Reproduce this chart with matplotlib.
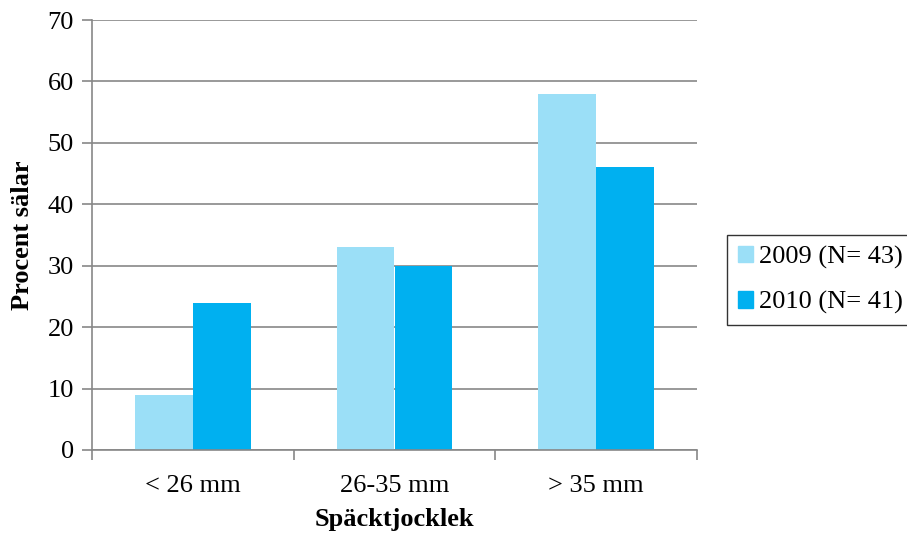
import matplotlib.pyplot as plt
import numpy as np
from matplotlib.patches import Patch

kategorier = ["< 26 mm", "26-35 mm", "> 35 mm"]
serie_2009 = [9, 33, 58]
serie_2010 = [24, 30, 46]
etiketter = ["2009 (N= 43)", "2010 (N= 41)"]
y_ticks = [0, 10, 20, 30, 40, 50, 60, 70]

plt.rcParams["font.family"] = "Liberation Serif"
fs = 19

fig = plt.figure(figsize=(9.07, 5.33), dpi=100)
ax = fig.add_axes([92 / 907, 1 - 450 / 533, (697 - 92) / 907, (450 - 20) / 533])

farg_ljus = "#9BDFF7"
farg_mork = "#00B0F0"
grid_farg = "#878787"

x = np.arange(len(kategorier))
bredd = 0.2875
ax.bar(x - bredd / 2, serie_2009, bredd, color=farg_ljus, zorder=2)
ax.bar(x + bredd / 2, serie_2010, bredd, color=farg_mork, zorder=2)

ax.set_xlim(-0.5, len(kategorier) - 0.5)
ax.set_ylim(0, 70)
ax.set_yticks(y_ticks)
ax.set_xticks(x)
ax.set_xticklabels(kategorier)
ax.set_xticks(np.arange(-0.5, len(kategorier)), minor=True)

ax.yaxis.grid(True, color=grid_farg, linewidth=1.2, zorder=0)
ax.set_axisbelow(True)

for s in ["top", "right"]:
    ax.spines[s].set_visible(False)
ax.spines["left"].set_color(grid_farg)
ax.spines["bottom"].set_color(grid_farg)
ax.spines["left"].set_linewidth(1.2)
ax.spines["bottom"].set_linewidth(1.2)

ax.tick_params(axis="y", length=7, width=1.2, color=grid_farg, labelsize=fs, pad=6)
ax.tick_params(axis="x", which="major", length=0, labelsize=fs, pad=18)
ax.tick_params(axis="x", which="minor", length=7, width=1.2, color=grid_farg)

ax.set_ylabel("Procent sälar", fontsize=fs, fontweight="bold", labelpad=10)
ax.set_xlabel("Späcktjocklek", fontsize=fs, fontweight="bold", labelpad=8)

handtag = [Patch(color=farg_ljus), Patch(color=farg_mork)]
leg = fig.legend(handtag, etiketter, loc="center left", bbox_to_anchor=(727 / 907, 1 - 280 / 533),
                 fontsize=fs, frameon=True, fancybox=False, handlelength=0.6, handleheight=0.6,
                 handletextpad=0.2, labelspacing=0.85, borderpad=0.4, borderaxespad=0)
leg.get_frame().set_edgecolor("black")
leg.get_frame().set_linewidth(1.0)

fig.savefig("out.png", dpi=100)
